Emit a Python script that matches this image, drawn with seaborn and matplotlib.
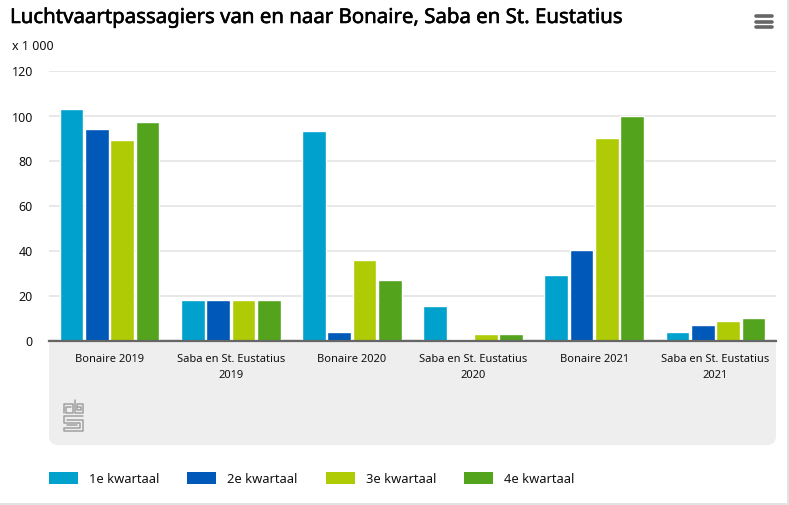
import pandas as pd
import matplotlib
matplotlib.use('Agg')
import matplotlib.pyplot as plt
import matplotlib.patheffects as pe
import seaborn as sns
from matplotlib.patches import FancyBboxPatch, Rectangle
from matplotlib.lines import Line2D

# Data
categories = ['Bonaire 2019', 'Saba en St. Eustatius\n2019', 'Bonaire 2020',
              'Saba en St. Eustatius\n2020', 'Bonaire 2021', 'Saba en St. Eustatius\n2021']
kwartaal1 = [102.7, 17.8, 93.1, 15.2, 29.3, 3.7]
kwartaal2 = [94.2, 18.2, 3.6, 0.5, 40.2, 6.8]
kwartaal3 = [88.9, 17.8, 35.8, 2.7, 89.8, 8.7]
kwartaal4 = [96.9, 18.2, 26.7, 2.7, 99.6, 10.2]
quarters = ['1e kwartaal', '2e kwartaal', '3e kwartaal', '4e kwartaal']
colors = ['#00a1cd', '#0058b8', '#afcb05', '#53a31d']
yticks = [0, 20, 40, 60, 80, 100, 120]

df = pd.DataFrame({'cat': categories, quarters[0]: kwartaal1, quarters[1]: kwartaal2,
                   quarters[2]: kwartaal3, quarters[3]: kwartaal4})
df = df.melt(id_vars='cat', var_name='kwartaal', value_name='passagiers')

sns.set_theme(style='white')
plt.rcParams['font.family'] = ['Noto Sans', 'DejaVu Sans']

W, H = 789, 506
fig = plt.figure(figsize=(W / 100, H / 100), dpi=100)
ax = fig.add_axes([49 / W, 1 - 341.5 / H, 727 / W, 270 / H])


def px(x, y):
    # pixel position in the picture to figure coordinates
    return x / W, 1 - y / H


# grey panel under the axis, drawn in pixels so the corners stay round
fig.add_artist(FancyBboxPatch((49, H - 446), 727, 106, transform=None,
                              boxstyle='round,pad=0,rounding_size=9', fc='#eeeeee', ec='none', zorder=0))
fig.add_artist(Rectangle((49, H - 365), 727, 25, transform=None, fc='#eeeeee', ec='none', zorder=0))

sns.barplot(data=df, x='cat', y='passagiers', hue='kwartaal', palette=colors, ax=ax,
            width=0.836, gap=0.07, saturation=1, legend=False, zorder=3)

ax.patch.set_alpha(0)
ax.set_xlim(-0.5, 5.5)
ax.set_ylim(0, 120)
ax.set_yticks(yticks)
ax.set_xlabel('')
ax.set_ylabel('')
ax.grid(axis='y', color='#e6e6e6', lw=1.3)
ax.set_axisbelow(True)
sns.despine(ax=ax, left=True)
ax.spines['bottom'].set_color('#666666')
ax.spines['bottom'].set_linewidth(1.6)
ax.spines['bottom'].set_zorder(5)
ax.tick_params(axis='x', length=0, pad=9, labelsize=8.0, labelcolor='#111111')
ax.tick_params(axis='y', length=0, pad=0, labelsize=9, labelcolor='#111111')
for lab in ax.get_yticklabels():
    lab.set_horizontalalignment('right')
    lab.set_x(-16 / 727)
for lab in ax.get_xticklabels():
    lab.set_linespacing(1.6)

# title and unit
title = fig.text(10 / W, 1 - 19 / H, 'Luchtvaartpassagiers van en naar Bonaire, Saba en St. Eustatius',
                 fontsize=14.7, color='black', va='center', ha='left')
title.set_path_effects([pe.withStroke(linewidth=0.4, foreground='black')])
fig.text(12 / W, 1 - 46 / H, 'x 1 000', fontsize=9, color='#111111', va='center', ha='left')

# legend
for x, q, c in zip([49, 187, 326, 464], quarters, colors):
    fig.add_artist(Rectangle(px(x, 485), 29 / W, 12 / H, transform=fig.transFigure, fc=c, ec='none'))
    fig.text((x + 40) / W, 1 - 480 / H, q, fontsize=9.3, color='#111111', va='center', ha='left')

# menu icon
for y in [16.5, 22.5, 28]:
    fig.add_artist(Line2D([755.5 / W, 771.5 / W], [1 - y / H] * 2, transform=fig.transFigure,
                          color='#666666', lw=2.6, solid_capstyle='round'))

# cbs logo
logo = [
    [(64, 414), (64, 405), (73, 405), (73, 414), (66, 414), (66, 408), (71, 408)],
    [(75, 401), (75, 414), (83, 414), (83, 405), (77, 405), (77, 411), (81, 411), (81, 408), (78, 408)],
    [(83, 417), (64, 417), (64, 424), (80, 424), (80, 429), (64, 429), (64, 432), (83, 432), (83, 421), (67, 421)],
    [(67, 426), (77, 426)],
]
for part in logo:
    xs = [p[0] / W for p in part]
    ys = [1 - p[1] / H for p in part]
    fig.add_artist(Line2D(xs, ys, transform=fig.transFigure, color='#a0a0a0', lw=1.1))

# page border on the right and bottom
fig.add_artist(Rectangle(px(787, 506), 2 / W, 1, transform=fig.transFigure, fc='#e2e2e2', ec='none'))
fig.add_artist(Rectangle(px(0, 506), 1, 2.5 / H, transform=fig.transFigure, fc='#e2e2e2', ec='none'))

fig.savefig('out.png', dpi=100)
